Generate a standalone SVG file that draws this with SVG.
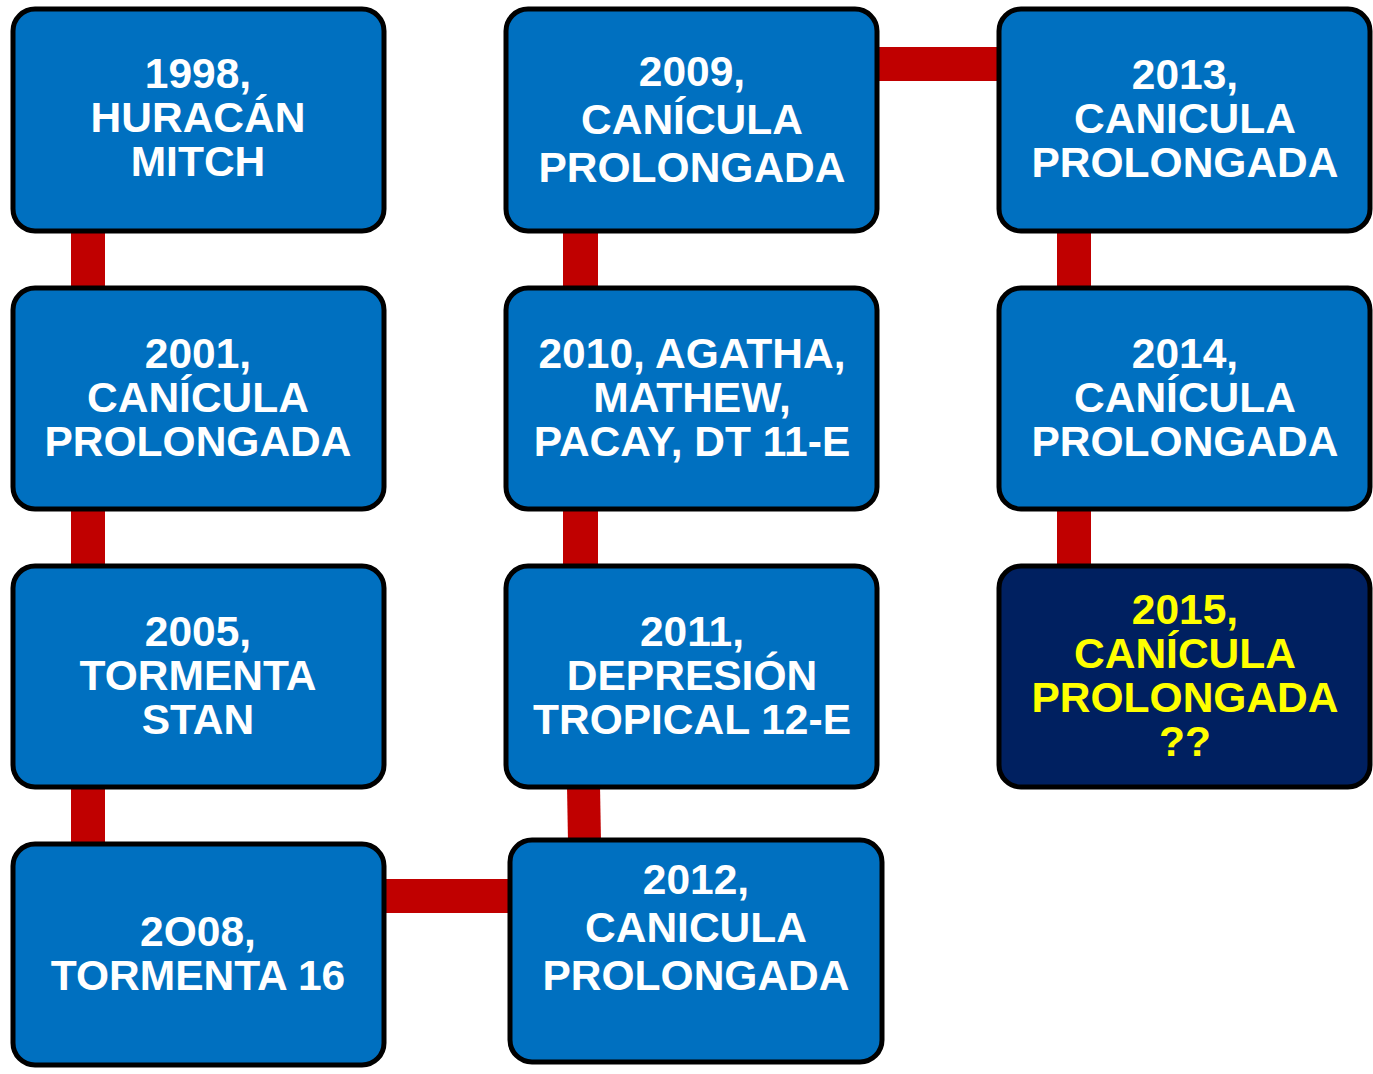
<svg xmlns="http://www.w3.org/2000/svg" width="1373" height="1074" viewBox="0 0 1373 1074">
<style>
.box{fill:#0070C0;stroke:#000;stroke-width:5}
.dark{fill:#002060}
.t{font-family:"Liberation Sans",Arial,sans-serif;font-weight:bold;font-size:42.5px;fill:#fff;text-anchor:middle}
.y{fill:#FFFF00}
.c{fill:#C00000}
</style>
<rect width="1373" height="1074" fill="#fff"/>
<g id="connectors">
<rect class="c" x="71" y="230" width="34" height="60"/>
<rect class="c" x="71" y="508" width="34" height="60"/>
<rect class="c" x="71" y="786" width="34" height="60"/>
<rect class="c" x="563" y="230" width="35" height="60"/>
<rect class="c" x="563" y="508" width="35" height="60"/>
<polygon class="c" points="567,786 600,786 601,842 568,842"/>
<rect class="c" x="1057" y="230" width="34" height="60"/>
<rect class="c" x="1057" y="508" width="34" height="60"/>
<rect class="c" x="875" y="47" width="126" height="34"/>
<rect class="c" x="382" y="879" width="130" height="34"/>
</g>
<g id="n1998"><rect class="box" x="13" y="9" width="371" height="222" rx="22"/>
<text class="t" x="198" y="88">1998,</text><text class="t" x="198" y="132">HURACÁN</text><text class="t" x="198" y="176">MITCH</text></g>
<g id="n2001"><rect class="box" x="13" y="288" width="371" height="221" rx="22"/>
<text class="t" x="198" y="368">2001,</text><text class="t" x="198" y="412">CANÍCULA</text><text class="t" x="198" y="456">PROLONGADA</text></g>
<g id="n2005"><rect class="box" x="13" y="566" width="371" height="221" rx="22"/>
<text class="t" x="198" y="646">2005,</text><text class="t" x="198" y="690">TORMENTA</text><text class="t" x="198" y="734">STAN</text></g>
<g id="n2008"><rect class="box" x="13" y="844" width="371" height="221" rx="22"/>
<text class="t" x="198" y="946">2O08,</text><text class="t" x="198" y="990">TORMENTA 16</text></g>
<g id="n2009"><rect class="box" x="506" y="9" width="371" height="222" rx="22"/>
<text class="t" x="692" y="86">2009,</text><text class="t" x="692" y="134">CANÍCULA</text><text class="t" x="692" y="182">PROLONGADA</text></g>
<g id="n2010"><rect class="box" x="506" y="288" width="371" height="221" rx="22"/>
<text class="t" x="692" y="368">2010, AGATHA,</text><text class="t" x="692" y="412">MATHEW,</text><text class="t" x="692" y="456">PACAY, DT 11-E</text></g>
<g id="n2011"><rect class="box" x="506" y="566" width="371" height="221" rx="22"/>
<text class="t" x="692" y="646">2011,</text><text class="t" x="692" y="690">DEPRESIÓN</text><text class="t" x="692" y="734">TROPICAL 12-E</text></g>
<g id="n2012"><rect class="box" x="510" y="840" width="372" height="222" rx="22"/>
<text class="t" x="696" y="894">2012,</text><text class="t" x="696" y="942">CANICULA</text><text class="t" x="696" y="990">PROLONGADA</text></g>
<g id="n2013"><rect class="box" x="999" y="9" width="371" height="222" rx="22"/>
<text class="t" x="1185" y="89">2013,</text><text class="t" x="1185" y="133">CANICULA</text><text class="t" x="1185" y="177">PROLONGADA</text></g>
<g id="n2014"><rect class="box" x="999" y="288" width="371" height="221" rx="22"/>
<text class="t" x="1185" y="368">2014,</text><text class="t" x="1185" y="412">CANÍCULA</text><text class="t" x="1185" y="456">PROLONGADA</text></g>
<g id="n2015"><rect class="box dark" x="999" y="566" width="371" height="221" rx="22"/>
<text class="t y" x="1185" y="624">2015,</text><text class="t y" x="1185" y="668">CANÍCULA</text><text class="t y" x="1185" y="712">PROLONGADA</text><text class="t y" x="1185" y="756">??</text></g>
</svg>
